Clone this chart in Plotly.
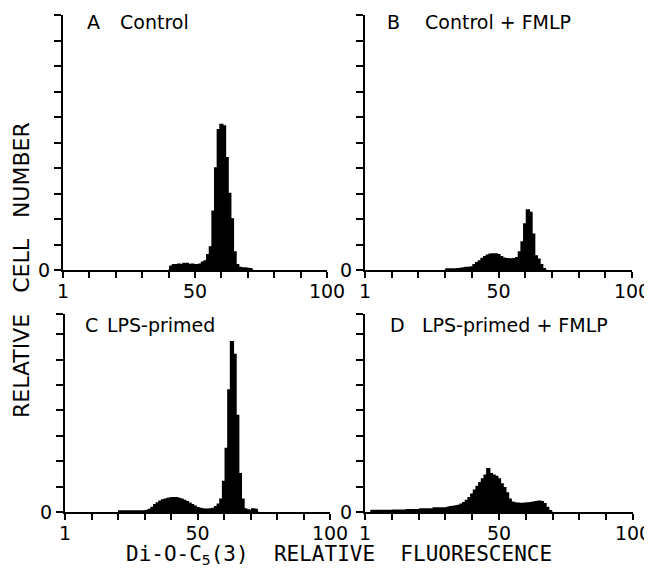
import plotly.graph_objects as go

# browser page has an 8 px body margin: the figure is drawn at (8, 8)
OFF = 8
W, H = 652 - OFF, 569 - OFF

# ---------------- data (relative cell number per fluorescence channel) ----------------
chan_A = list(range(40, 73))
vals_A = [0, 0.15, 0.2, 0.2, 0.22, 0.2, 0.25, 0.25, 0.2, 0.22, 0.2, 0.2, 0.22, 0.3, 0.35,
          0.6, 0.9, 2.3, 4.0, 5.5, 5.7, 5.65, 4.4, 3.0, 2.0, 0.7, 0.2, 0.1, 0.08, 0.08,
          0.06, 0.05, 0]

chan_B = list(range(30, 69))
vals_B = [0.03, 0.04, 0.04, 0.04, 0.04, 0.05, 0.06, 0.08, 0.1, 0.1, 0.12, 0.2, 0.28, 0.35,
          0.45, 0.52, 0.58, 0.62, 0.63, 0.63, 0.6, 0.52, 0.46, 0.44, 0.43, 0.43, 0.44, 0.48,
          0.7, 1.1, 1.8, 2.35, 2.25, 1.4, 0.55, 0.42, 0.2, 0.05, 0]

chan_C = list(range(20, 74))
vals_C = [0.04, 0.04, 0.04, 0.04, 0.04, 0.04, 0.04, 0.04, 0.04, 0.04, 0.04, 0.06, 0.1, 0.18,
          0.28, 0.35, 0.42, 0.47, 0.5, 0.53, 0.55, 0.56, 0.56, 0.53, 0.5, 0.45, 0.4, 0.34,
          0.28, 0.22, 0.17, 0.14, 0.12, 0.11, 0.11, 0.12, 0.14, 0.2, 0.3, 0.5, 1.2, 2.5, 4.8,
          6.7, 6.2, 3.8, 1.5, 0.5, 0.12, 0.08, 0.06, 0.12, 0.1, 0]

chan_D = list(range(2, 71))
vals_D = [0.05, 0.06, 0.06, 0.06, 0.06, 0.06, 0.06, 0.06, 0.06, 0.07, 0.07, 0.07, 0.07, 0.07,
          0.09, 0.09, 0.09, 0.09, 0.09, 0.12, 0.12, 0.12, 0.12, 0.12, 0.16, 0.16, 0.16, 0.16,
          0.16, 0.18, 0.2, 0.21, 0.23, 0.25, 0.3, 0.36, 0.45, 0.56, 0.7, 0.85, 1.0, 1.15, 1.3,
          1.45, 1.7, 1.5, 1.45, 1.4, 1.3, 1.1, 0.95, 0.75, 0.5, 0.38, 0.35, 0.34, 0.33, 0.33,
          0.34, 0.35, 0.36, 0.38, 0.4, 0.42, 0.4, 0.32, 0.18, 0.05, 0]

letters = ["A", "B", "C", "D"]
titles = ["Control", "Control + FMLP", "LPS-primed", "LPS-primed + FMLP"]

x_tickvals = [0, 10, 20, 30, 40, 50, 60, 70, 80, 90, 100]
x_ticktext = ["1", "", "", "", "", "50", "", "", "", "", "100"]

# ---------------- layout geometry (window pixels) ----------------
panels = [
    # x0, x1, ytop, ybase, ymax
    (63, 327, 15, 270, 10.0),
    (365, 632, 15, 270, 10.0),
    (65, 330, 314, 512, 7.8),
    (365, 633, 314, 512, 7.8),
]
title_pos = [(85, 118, 22), (385, 423, 22), (83, 105, 325), (388, 420, 325)]


def fx(px):
    return (px - OFF) / W


def fy(py):
    return 1 - (py - OFF) / H


FONT = "DejaVu Sans"
fig = go.Figure()
datasets = [(chan_A, vals_A), (chan_B, vals_B), (chan_C, vals_C), (chan_D, vals_D)]

layout = dict(width=W, height=H, margin=dict(l=0, r=0, t=0, b=0, autoexpand=False),
              template="none",
              paper_bgcolor="white", plot_bgcolor="white", showlegend=False,
              font=dict(family=FONT, color="black"))
annotations = []

for i, ((cx, cy), (x0, x1, yt, yb, ymax)) in enumerate(zip(datasets, panels)):
    n = "" if i == 0 else str(i + 1)
    fig.add_trace(go.Scatter(x=cx, y=cy, mode="lines", line=dict(color="black", width=1.6, shape="hvh"),
                             fill="tozeroy", fillcolor="black", xaxis="x" + n, yaxis="y" + n,
                             hoverinfo="skip"))
    yticks = list(range(0, int(ymax) + 1)) + ([ymax] if ymax != int(ymax) else [])
    ytext = ["0"] + [""] * (len(yticks) - 1)
    layout["xaxis" + n] = dict(domain=[fx(x0), fx(x1)], range=[0, 100], anchor="y" + n,
                               automargin=False, ticklabelstandoff=-3,
                               showline=True, linecolor="black", linewidth=2, mirror=False,
                               ticks="outside", ticklen=6, tickwidth=2, tickcolor="black",
                               tickvals=x_tickvals, ticktext=x_ticktext, showgrid=False,
                               zeroline=False, tickfont=dict(size=19, family=FONT))
    layout["yaxis" + n] = dict(domain=[fy(yb), fy(yt)], range=[0, ymax], anchor="x" + n,
                               automargin=False,
                               showline=True, linecolor="black", linewidth=2,
                               ticks="outside", ticklen=7, tickwidth=2, tickcolor="black",
                               tickvals=yticks, ticktext=ytext, showgrid=False,
                               zeroline=False, tickfont=dict(size=19, family=FONT))
    lx, tx, ty = title_pos[i]
    annotations.append(dict(x=fx(lx), y=fy(ty), xref="paper", yref="paper", text=letters[i],
                            showarrow=False, xanchor="left", yanchor="middle",
                            font=dict(size=19, family=FONT)))
    annotations.append(dict(x=fx(tx), y=fy(ty), xref="paper", yref="paper", text=titles[i],
                            showarrow=False, xanchor="left", yanchor="middle",
                            font=dict(size=19, family=FONT)))

annotations.append(dict(x=fx(21), y=fy(270), xref="paper", yref="paper",
                        text="RELATIVE&nbsp;&nbsp;&nbsp;CELL&nbsp;&nbsp;&nbsp;NUMBER", textangle=-90,
                        showarrow=False, xanchor="center", yanchor="middle",
                        font=dict(size=22, family=FONT)))
annotations.append(dict(x=fx(339), y=fy(555), xref="paper", yref="paper",
                        text="Di-O-C<sub>5</sub>(3)&nbsp;&nbsp;RELATIVE&nbsp;&nbsp;FLUORESCENCE",
                        showarrow=False, xanchor="center", yanchor="middle",
                        font=dict(size=21, family="DejaVu Sans Mono")))
layout["annotations"] = annotations
fig.update_layout(**layout)
fig.write_html("out.html")
